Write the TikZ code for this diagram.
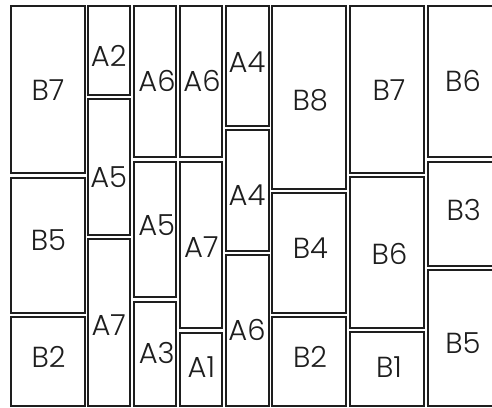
\documentclass[tikz,border=0pt]{standalone}
\usepackage{fontspec}
\setmainfont{Poppins}[UprightFont=* Light]
\definecolor{ink}{HTML}{1E1E1E}
\tikzset{
  box/.style={draw=ink, line width=1.8pt, fill=white},
  lbl/.style={text=ink, font=\fontsize{29}{29}\selectfont, inner sep=0pt, anchor=center},
}
\newcommand\pbox[7]{%
  \draw[box] (#2,#3) rectangle (#4,#5);
  \node[lbl] (#1) at (#6) {#7};
}
\begin{document}
\begin{tikzpicture}[x=1pt,y=-1pt]
\useasboundingbox (0,0) rectangle (492,407);
\clip (0,0) rectangle (492,407);
% column 1
\pbox{c1a}{11.3}{6.3}{84.7}{173.3}{48,90}{B7}
\pbox{c1b}{11.3}{177.7}{84.7}{312.7}{48.5,240}{B5}
\pbox{c1c}{11.3}{317}{84.7}{405.7}{48.5,356.7}{B2}
% column 2
\pbox{c2a}{88.3}{6.3}{130.3}{95.3}{108.7,56.3}{A2}
\pbox{c2b}{88.3}{99.3}{130.3}{234.7}{108.7,176.7}{A5}
\pbox{c2c}{88.3}{239.3}{130.3}{405.7}{108.7,325}{A7}
% column 3
\pbox{c3a}{134.3}{6.3}{176.3}{157.3}{157,81.2}{A6}
\pbox{c3b}{134.3}{162}{176.3}{297.3}{156.7,225}{A5}
\pbox{c3c}{134.3}{301.7}{176.3}{405.7}{156.7,353.3}{A3}
% column 4
\pbox{c4a}{180.3}{6.3}{222.3}{157.3}{202,81.2}{A6}
\pbox{c4b}{180.3}{162}{222.3}{328.3}{201.3,246.7}{A7}
\pbox{c4c}{180.3}{332.7}{222.3}{405.7}{201.3,366.7}{A1}
% column 5
\pbox{c5a}{226.3}{6.3}{268.7}{126.3}{247,62.5}{A4}
\pbox{c5b}{226.3}{130.3}{268.7}{250.7}{247,195.5}{A4}
\pbox{c5c}{226.3}{254.7}{268.7}{405.7}{247,329.7}{A6}
% column 6
\pbox{c6a}{272.3}{6.3}{346.3}{188.7}{310.3,100}{B8}
\pbox{c6b}{272.3}{192.7}{346.3}{313.3}{310.3,248}{B4}
\pbox{c6c}{272.3}{316.7}{346.3}{405.7}{310,356.7}{B2}
% column 7
\pbox{c7a}{350.3}{6.3}{423.7}{173.3}{389,90}{B7}
\pbox{c7b}{350.3}{177.3}{423.7}{328.3}{389.5,253.7}{B6}
\pbox{c7c}{350.3}{332.3}{423.7}{405.7}{389,366.7}{B1}
% column 8
\pbox{c8a}{427.7}{6.3}{520}{157.3}{463,80.7}{B6}
\pbox{c8b}{427.7}{162}{520}{266}{463.7,210.3}{B3}
\pbox{c8c}{427.7}{270.3}{520}{405.7}{463,343.3}{B5}
\end{tikzpicture}
\end{document}
